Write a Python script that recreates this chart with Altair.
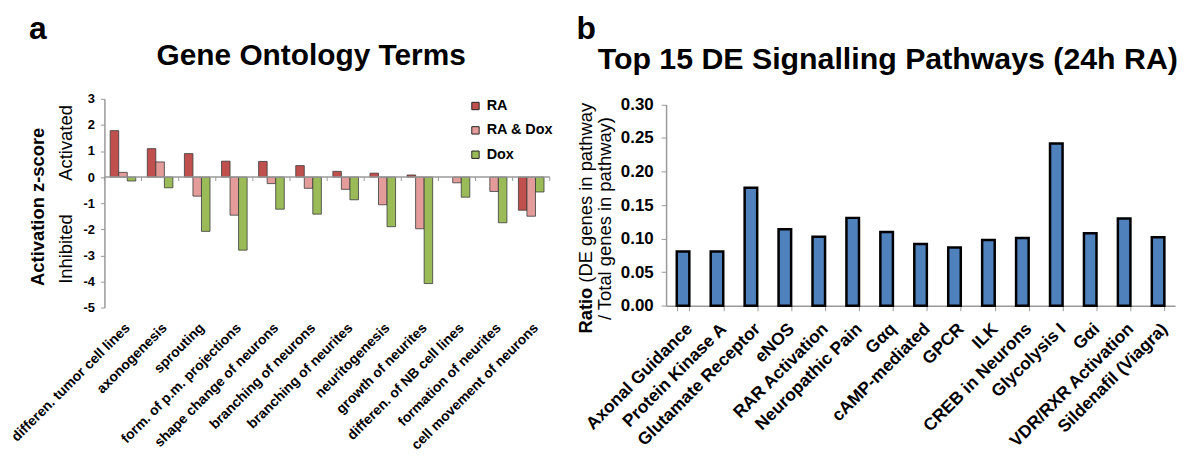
import altair as alt
import pandas as pd

FONT = "Liberation Sans"

# ---------------- Panel a data ----------------
terms = [
    "differen. tumor cell lines", "axonogenesis", "sprouting",
    "form. of p.m. projections", "shape change of neurons",
    "branching of neurons", "branching of neurites", "neuritogenesis",
    "growth of neurites", "differen. of NB cell lines",
    "formation of neurites", "cell movement of neurons",
]
series = ["RA", "RA & Dox", "Dox"]
ra_vals = [1.78, 1.09, 0.90, 0.61, 0.60, 0.44, 0.22, 0.15, 0.08, None, None, -1.27]
radox_vals = [0.18, 0.58, -0.73, -1.46, -0.25, -0.43, -0.47, -1.06, -1.98, -0.22, -0.55, -1.50]
dox_vals = [-0.15, -0.41, -2.08, -2.80, -1.23, -1.42, -0.87, -1.90, -4.08, -0.77, -1.75, -0.57]
series_colors = ["#C0504D", "#E39C9A", "#9BBB59"]
za_ticks = [-5, -4, -3, -2, -1, 0, 1, 2, 3]

# ---------------- Panel b data ----------------
pathways = [
    "Axonal Guidance", "Protein Kinase A", "Glutamate Receptor", "eNOS",
    "RAR Activation", "Neuropathic Pain", "Gαq", "cAMP-mediated", "GPCR",
    "ILK", "CREB in Neurons", "Glycolysis I", "Gαi", "VDR/RXR Activation",
    "Sildenafil (Viagra)",
]
ratios = [0.081, 0.081, 0.176, 0.114, 0.103, 0.131, 0.110, 0.092, 0.087,
          0.098, 0.101, 0.242, 0.108, 0.130, 0.102]
rb_ticks = [0.0, 0.05, 0.10, 0.15, 0.20, 0.25, 0.30]

# ---------------- Build tables ----------------
rows = []
for i, t in enumerate(terms):
    for s, vals in zip(series, [ra_vals, radox_vals, dox_vals]):
        rows.append({"term": t, "series": s, "z": vals[i]})
df_a = pd.DataFrame(rows)
df_b = pd.DataFrame({"pathway": pathways, "ratio": ratios})
df_ticks = pd.DataFrame({"term": terms, "y0": 0.0, "y1": -0.15})

W_A, H_A = 448, 210
W_B = 512
B_TOP_GAP = 5.7            # panel b's plot starts a little lower than panel a's
H_B = 202.5 + B_TOP_GAP
AXIS_GREY = "#9a9a9a"
PI_A = 0.31
STEP_A = W_A / len(terms)
HALF_GAP_A = STEP_A * PI_A / 2
LETTER_Y = -85             # top of the panel letters, relative to the plot top
TOP_PAD = 4

# ---------------- Panel a ----------------
xa_scale = alt.Scale(domain=terms, paddingInner=PI_A, paddingOuter=PI_A / 2)
ya_scale = alt.Scale(domain=[-5, 3], nice=False, zero=False)
ya_axis = alt.Axis(
    title=None, values=za_ticks, labelExpr="datum.value", grid=False, labelOverlap=False,
    domainColor=AXIS_GREY, domainWidth=1.5, tickColor=AXIS_GREY, tickSize=4,
    labelFontSize=13, labelFontWeight="bold", labelColor="black", labelPadding=6,
)
xa_axis = alt.Axis(title=None, labelAngle=-45, domain=False, ticks=False,
                   labelFontSize=14, labelFontWeight="bold", labelColor="black",
                   labelPadding=13, labelLimit=400, labelOverlap=False)

bars_a = alt.Chart(df_a).mark_bar(stroke="#3a3a3a", strokeWidth=0.8).encode(
    x=alt.X("term:N", sort=terms, scale=xa_scale, axis=xa_axis),
    xOffset=alt.XOffset("series:N", sort=series,
                        scale=alt.Scale(domain=series, paddingInner=0, paddingOuter=0)),
    y=alt.Y("z:Q", scale=ya_scale, axis=ya_axis, stack=None),
    color=alt.Color("series:N", sort=series,
                    scale=alt.Scale(domain=series, range=series_colors),
                    legend=alt.Legend(title=None, orient="none", legendX=366, legendY=0,
                                      symbolType="square", symbolSize=55,
                                      symbolStrokeColor="#222222", symbolStrokeWidth=1,
                                      labelFontSize=14.5, labelFontWeight="bold",
                                      labelColor="black", rowPadding=9.5, labelOffset=4,
                                      padding=0)),
)

zero_line = alt.Chart(pd.DataFrame({"v": [0]})).mark_rule(
    color=AXIS_GREY, strokeWidth=1.5
).encode(y=alt.Y("v:Q", scale=ya_scale, axis=ya_axis))

zero_ticks = alt.Chart(df_ticks).mark_rule(
    color=AXIS_GREY, strokeWidth=1, xOffset=-HALF_GAP_A
).encode(
    x=alt.X("term:N", sort=terms, scale=xa_scale, axis=xa_axis, bandPosition=0),
    y=alt.Y("y0:Q", scale=ya_scale, axis=ya_axis), y2="y1:Q",
)
zero_tick_end = alt.Chart(df_ticks.tail(1)).mark_rule(
    color=AXIS_GREY, strokeWidth=1, xOffset=HALF_GAP_A
).encode(
    x=alt.X("term:N", sort=terms, scale=xa_scale, axis=xa_axis, bandPosition=1),
    y=alt.Y("y0:Q", scale=ya_scale, axis=ya_axis), y2="y1:Q",
)

side_a = pd.DataFrame({"label": ["Activated", "Inhibited"], "pos": [1.31, -2.76]})
side_a_text = alt.Chart(side_a).mark_text(
    angle=270, fontSize=18.5, color="black", align="center", baseline="middle"
).encode(x=alt.value(-39), y=alt.Y("pos:Q", scale=ya_scale, axis=ya_axis), text="label:N")

ytitle_a = pd.DataFrame({"label": ["Activation z-score"], "pos": [-1.14]})
ytitle_a_text = alt.Chart(ytitle_a).mark_text(
    angle=270, fontSize=18.5, fontWeight="bold", color="black", align="center", baseline="middle"
).encode(x=alt.value(-66.5), y=alt.Y("pos:Q", scale=ya_scale, axis=ya_axis), text="label:N")

letter_a = alt.Chart(pd.DataFrame({"label": ["a"]})).mark_text(
    fontSize=32, fontWeight="bold", color="black", align="left", baseline="top"
).encode(x=alt.value(-76), y=alt.value(LETTER_Y), text="label:N")

title_a = alt.Chart(pd.DataFrame({"label": ["Gene Ontology Terms"]})).mark_text(
    fontSize=30, fontWeight="bold", color="black", align="center", baseline="alphabetic"
).encode(x=alt.value(208), y=alt.value(-34), text="label:N")

chart_a = alt.layer(
    bars_a, zero_line, zero_ticks, zero_tick_end,
    side_a_text, ytitle_a_text, letter_a, title_a
).properties(width=W_A, height=H_A)

# ---------------- Panel b ----------------
xb_scale = alt.Scale(domain=pathways, paddingInner=0.63, paddingOuter=0.315)
yb_scale = alt.Scale(domain=[0, 0.30], nice=False, range=[H_B, B_TOP_GAP])
yb_axis = alt.Axis(
    title=None, values=rb_ticks, format=".2f", grid=False, labelOverlap=False,
    domainColor=AXIS_GREY, domainWidth=1.5, tickColor=AXIS_GREY, tickSize=5,
    labelFontSize=17, labelFontWeight="bold", labelColor="black", labelPadding=8,
)

bars_b = alt.Chart(df_b).mark_bar(color="#4F81BD", stroke="black", strokeWidth=2.5).encode(
    x=alt.X("pathway:N", sort=pathways, scale=xb_scale,
            axis=alt.Axis(title=None, labelAngle=-45, domainColor=AXIS_GREY, domainWidth=1.5,
                          tickColor=AXIS_GREY, tickSize=5, tickBand="extent",
                          labelFontSize=17.5, labelFontWeight="bold", labelColor="black",
                          labelPadding=9, labelLimit=400, labelOverlap=False)),
    y=alt.Y("ratio:Q", scale=yb_scale, axis=yb_axis),
)

ratio_bold = alt.Chart(pd.DataFrame({"label": ["Ratio"], "pos": [0.027]})).mark_text(
    angle=270, fontSize=18.5, fontWeight="bold", color="black", align="right", baseline="middle"
).encode(x=alt.value(-81), y=alt.Y("pos:Q", scale=yb_scale, axis=yb_axis), text="label:N")

ratio_rest = alt.Chart(pd.DataFrame({"label": ["(DE genes in pathway"], "pos": [0.0344]})).mark_text(
    angle=270, fontSize=18.5, color="black", align="left", baseline="middle"
).encode(x=alt.value(-81), y=alt.Y("pos:Q", scale=yb_scale, axis=yb_axis), text="label:N")

ratio_line2 = alt.Chart(pd.DataFrame({"label": ["/ Total genes in pathway)"], "pos": [0.13]})).mark_text(
    angle=270, fontSize=18.5, color="black", align="center", baseline="middle"
).encode(x=alt.value(-61), y=alt.Y("pos:Q", scale=yb_scale, axis=yb_axis), text="label:N")

letter_b = alt.Chart(pd.DataFrame({"label": ["b"]})).mark_text(
    fontSize=32, fontWeight="bold", color="black", align="left", baseline="top"
).encode(x=alt.value(-90), y=alt.value(LETTER_Y), text="label:N")

title_b = alt.Chart(pd.DataFrame({"label": ["Top 15 DE Signalling Pathways (24h RA)"]})).mark_text(
    fontSize=30.5, fontWeight="bold", color="black", align="center", baseline="alphabetic"
).encode(x=alt.value(223), y=alt.value(-30), text="label:N")

chart_b = alt.layer(
    bars_b, ratio_bold, ratio_rest, ratio_line2, letter_b, title_b
).properties(width=W_B, height=H_B)

chart = alt.hconcat(chart_a, chart_b, spacing=25).properties(
    padding={"left": 0, "top": TOP_PAD, "right": 5, "bottom": 5}
).configure(font=FONT).configure_view(stroke=None)

chart.save("out.html", embed_options={"renderer": "svg", "actions": False})
